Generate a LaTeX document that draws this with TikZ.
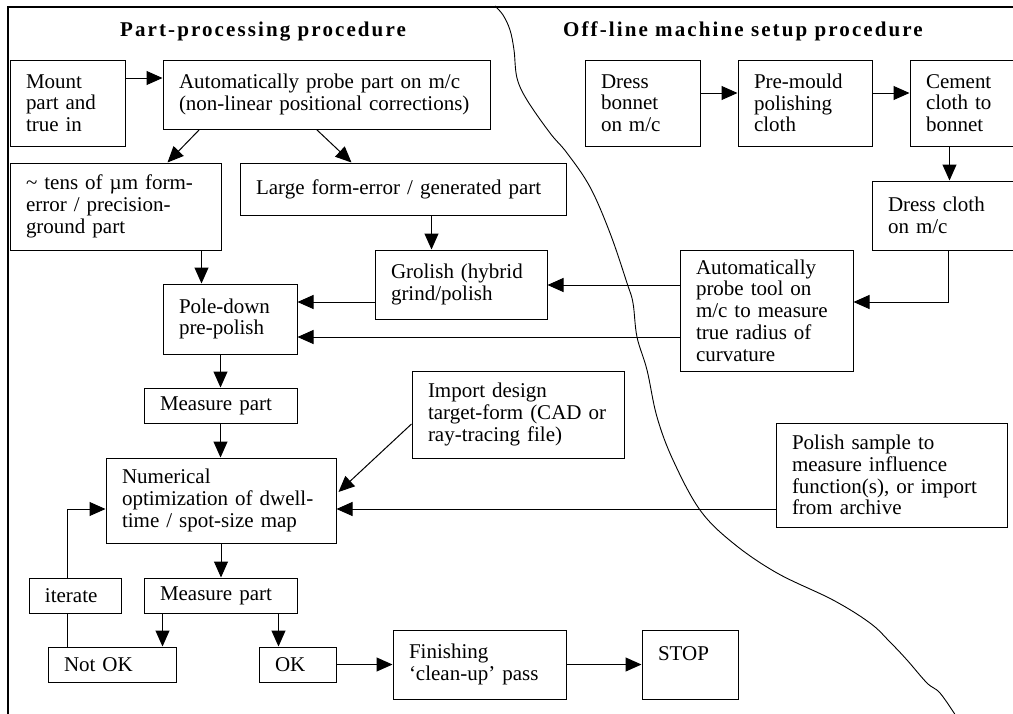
\documentclass[tikz,border=0pt]{standalone}
\usepackage{fontspec}
\setmainfont{Liberation Serif}
\newfontfamily\headfont[LetterSpace=10]{Liberation Serif}
\usetikzlibrary{arrows.meta, calc}

\tikzset{
  stage/.style={draw, line width=1pt, align=left, inner xsep=16pt, inner ysep=0pt,
    font=\fontsize{21}{21.7}\selectfont},
  arr/.style={line width=1pt, -{Triangle[length=16pt,width=14pt]}},
  link/.style={line width=1pt},
  heading/.style={anchor=base west, inner sep=0pt,
    font=\headfont\bfseries\fontsize{21}{24}\selectfont},
}

\begin{document}
\begin{tikzpicture}[x=1pt, y=-1pt]
\clip (0,0) rectangle (1013,713);
\fill[white] (0,0) rectangle (1013,713);
% frame
\draw[line width=1.2pt] (1020,7) -- (8,7) -- (8,720);
% headings
\node[heading] (partHead) at (120,36) {Part-processing procedure};
\node[heading] (setupHead) at (563,36) {Off-line machine setup procedure};

% part-processing side
\node[stage, text width=83pt, minimum height=86pt] (mount) at (67.5,103) {Mount\\part and\\true in};
\node[stage, text width=295pt, minimum height=69pt] (probe) at (326.5,94.5) {Automatically probe part on m/c\\(non-linear positional corrections)};
\node[stage, text width=179pt, minimum height=87pt] (tens) at (115.5,206.5) {\textasciitilde{} tens of µm form-\\error / precision-\\ground part};
\node[stage, text width=294pt, minimum height=52pt] (large) at (403,189) {Large form-error / generated part};
\node[stage, text width=140pt, minimum height=69pt] (grolish) at (461,284.5) {Grolish (hybrid\\grind/polish};
\node[stage, text width=102pt, minimum height=70pt] (pole) at (230,319) {Pole-down\\pre-polish};
\node[stage, text width=121pt, minimum height=35pt] (measureA) at (220.5,405.5) {Measure part};
\node[stage, text width=180pt, minimum height=87pt] (import) at (518,414.5) {Import design\\target-form (CAD or\\ray-tracing file)};
\node[stage, text width=198pt, minimum height=85pt] (numer) at (221,500.5) {Numerical\\optimization of dwell-\\time / spot-size map};
\node[stage, text width=60pt, minimum height=35pt] (iterate) at (75,595.5) {iterate};
\node[stage, text width=121pt, minimum height=35pt] (measureB) at (220.5,595.5) {Measure part};
\node[stage, text width=96pt, minimum height=35pt] (notok) at (112,664.5) {Not OK};
\node[stage, text width=45pt, minimum height=35pt] (ok) at (297.5,664.5) {OK};
\node[stage, text width=141pt, minimum height=69pt] (finish) at (479.5,664.5) {Finishing\\‘clean-up’ pass};
\node[stage, text width=64pt, minimum height=69pt] (stop) at (690,664.5) {STOP\\~};

% machine setup side
\node[stage, text width=83pt, minimum height=86pt] (bonnet) at (642.5,103) {Dress\\bonnet\\on m/c};
\node[stage, text width=102pt, minimum height=86pt] (premould) at (805,103) {Pre-mould\\polishing\\cloth};
\node[stage, text width=98pt, minimum height=86pt] (cement) at (975,103) {Cement\\cloth to\\bonnet};
\node[stage, text width=146pt, minimum height=69pt] (cloth) at (961,215.5) {Dress cloth\\on m/c};
\node[stage, text width=141pt, minimum height=121pt] (tool) at (766.5,310.5) {Automatically\\probe tool on\\m/c to measure\\true radius of\\curvature};
\node[stage, text width=199pt, minimum height=104pt] (sample) at (891.5,475) {Polish sample to\\measure influence\\function(s), or import\\from archive};

% divider
\draw[line width=0.9pt]
  plot[smooth, tension=0.6] coordinates {(495,6) (503,15) (510,30) (514,50) (517,78) (527,100)
  (550,133) (567,153) (590,187) (610,233) (627,283) (633,303) (637,337) (647,370) (657,417)
  (673,460) (700,510) (733,543) (777,573) (833,600) (870,623) (890,642) (907,660) (927,683)
  (940,693) (956,716)};

% connector end points
\coordinate (mountOut) at ([yshift=25pt]mount.east);
\coordinate (largeOut) at ([xshift=192pt]large.south west);
\coordinate (tensOut) at ([xshift=192pt]tens.south west);
\coordinate (grolishOut) at ([yshift=-17.5pt]grolish.west);
\coordinate (toolOutA) at ([yshift=25.5pt]tool.west);
\coordinate (toolOutB) at ([yshift=-26.5pt]tool.west);
\coordinate (clothOut) at ([xshift=77pt]cloth.south west);
\coordinate (toolIn) at ([yshift=8.5pt]tool.east);
\coordinate (cementOut) at ([xshift=40pt]cement.south west);
\coordinate (bonnetOut) at ([yshift=10pt]bonnet.east);
\coordinate (premouldOut) at ([yshift=10pt]premould.east);
\coordinate (poleOut) at ([xshift=58pt]pole.south west);
\coordinate (sampleOut) at ([yshift=-34pt]sample.west);
\coordinate (measureOutA) at ([xshift=19pt]measureB.south west);
\coordinate (measureOutB) at ([xshift=135pt]measureB.south west);
\coordinate (notokOut) at ([xshift=20pt]notok.north west);
\coordinate (iterateOut) at ([xshift=39pt]iterate.north west);
\coordinate (numerIn) at ([yshift=-8.5pt]numer.west);

% connectors
\draw[arr] (mountOut) -- (mountOut -| probe.west);
\draw[arr] ([xshift=37pt]probe.south west) -- ([xshift=158pt]tens.north west);
\draw[arr] ([xshift=154pt]probe.south west) -- ([xshift=112pt]large.north west);
\draw[arr] (largeOut) -- (largeOut |- grolish.north);
\draw[arr] (tensOut) -- (tensOut |- pole.north);
\draw[arr] (grolishOut) -- (grolishOut -| pole.east);
\draw[arr] (toolOutA) -- (toolOutA -| grolish.east);
\draw[arr] (toolOutB) -- (toolOutB -| pole.east);
\draw[arr] (clothOut) |- (toolIn);
\draw[arr] (cementOut) -- (cementOut |- cloth.north);
\draw[arr] (bonnetOut) -- (bonnetOut -| premould.west);
\draw[arr] (premouldOut) -- (premouldOut -| cement.west);
\draw[arr] (poleOut) -- (poleOut |- measureA.north);
\draw[arr] (measureA.south) -- (measureA.south |- numer.north);
\draw[arr] ([yshift=-9.5pt]import.west) -- ([xshift=2pt,yshift=8.5pt]numer.east);
\draw[arr] (sampleOut) -- (sampleOut -| numer.east);
\draw[arr] (numer.south) -- (numer.south |- measureB.north);
\draw[arr] (measureOutA) -- (measureOutA |- notok.north);
\draw[arr] (measureOutB) -- (measureOutB |- ok.north);
\draw[link] (notokOut) -- (notokOut |- iterate.south);
\draw[arr] (iterateOut) |- (numerIn);
\draw[arr] (ok) -- (finish);
\draw[arr] (finish) -- (stop);
\end{tikzpicture}
\end{document}
